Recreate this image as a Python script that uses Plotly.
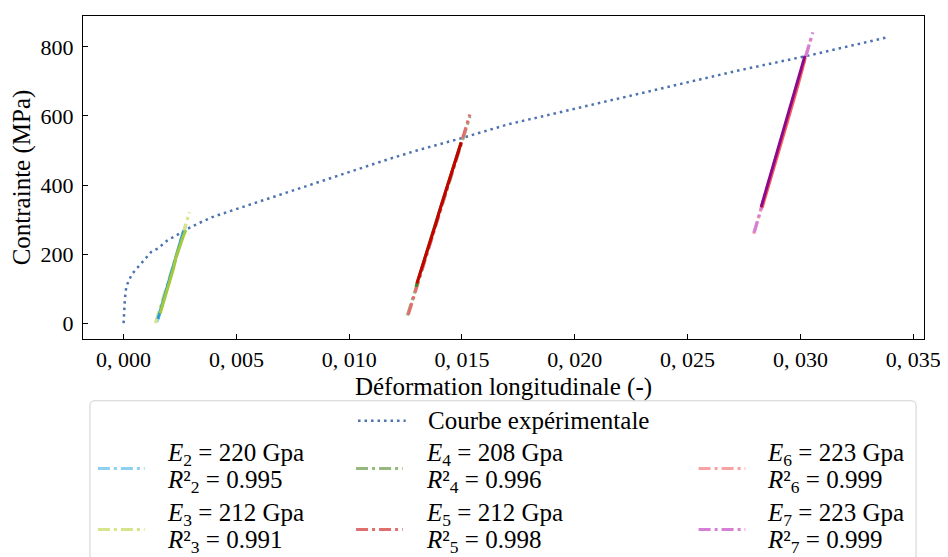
import plotly.graph_objects as go

# ---------------- data ----------------
strain_exp = [0.0, 0.000013, 0.000057, 0.000119, 0.000233, 0.000383, 0.00063, 0.00082,
              0.00122, 0.00151, 0.00195, 0.00247, 0.00283, 0.00335, 0.00393, 0.00452,
              0.0060, 0.0080, 0.0100, 0.0117, 0.0130, 0.0150, 0.0170, 0.0200, 0.0230,
              0.0250, 0.0272, 0.0303, 0.0338]
stress_exp = [0, 35, 71, 105, 124, 143, 161, 177,
              206, 216, 240, 259, 273, 290, 307, 320,
              352, 395, 437, 474, 500, 536, 575, 621, 667,
              697, 731, 774, 827]

fit_names = ["2", "3", "4", "5", "6", "7"]
fit_E = [220, 212, 208, 212, 223, 223]
fit_R2 = ["0.995", "0.991", "0.996", "0.998", "0.999", "0.999"]

fit_x = [[0.00148, 0.00275], [0.00141, 0.00292], [0.01258, 0.01535],
         [0.01262, 0.01535], [0.02793, 0.03050], [0.02795, 0.03055]]
fit_y = [[3, 282], [0, 321], [22, 598], [25, 604], [259, 832], [262, 842]]

cyc_x = [
    [0.00152, 0.00175, 0.00200, 0.00222, 0.00245, 0.00266],
    [0.00162, 0.00180, 0.00198, 0.00210, 0.00222, 0.00232, 0.00245, 0.00254, 0.00266, 0.00276],
    [0.01296, 0.0133, 0.0137, 0.0140, 0.0144, 0.0147, 0.01495],
    [0.01300, 0.0134, 0.0138, 0.0141, 0.0145, 0.0148, 0.01497],
    [0.02830, 0.0287, 0.0291, 0.0295, 0.0299, 0.03022],
    [0.02826, 0.0286, 0.0290, 0.0294, 0.0298, 0.03020],
]
cyc_y = [
    [12, 65, 120, 168, 222, 268],
    [28, 68, 108, 140, 160, 190, 214, 236, 254, 269],
    [105, 180, 262, 325, 405, 470, 522],
    [115, 195, 280, 345, 425, 490, 524],
    [333, 420, 510, 600, 690, 770],
    [336, 412, 502, 592, 684, 774],
]

xtick_vals = [0.0, 0.005, 0.010, 0.015, 0.020, 0.025, 0.030, 0.035]
xtick_text = ["0, 000", "0, 005", "0, 010", "0, 015", "0, 020", "0, 025", "0, 030", "0, 035"]
ytick_vals = [0, 200, 400, 600, 800]

# ---------------- styles ----------------
FONT = "Liberation Serif"
exp_color = "#4c72b0"
fit_colors = ["#8fd0f0", "#d6e48c", "#97b87c", "#e07070", "#f7a3a3", "#d480d4"]
cyc_colors = ["#2a9fd8", "#a5c83c", "#3a8a1c", "#c80000", "#ff5a5a", "#8b0a8b"]
DASHDOT = "12px,4px,3px,4px"
DOT = "2.5px,4px"

fig = go.Figure()
fig.add_trace(go.Scatter(x=strain_exp, y=stress_exp, mode="lines",
                         line=dict(color=exp_color, width=2.5, dash=DOT),
                         name="Courbe expérimentale", showlegend=False))
for i in range(6):
    fig.add_trace(go.Scatter(x=fit_x[i], y=fit_y[i], mode="lines",
                             line=dict(color=fit_colors[i], width=3.2, dash=DASHDOT),
                             showlegend=False))
for i in range(6):
    fig.add_trace(go.Scatter(x=cyc_x[i], y=cyc_y[i], mode="lines",
                             line=dict(color=cyc_colors[i], width=3),
                             showlegend=False))

# ---------------- layout ----------------
# page coordinates of the plot frame (browser body has an 8px margin)
OFF = 8
L, R, T, B = 83, 930, 15, 339
PAGE_W, PAGE_H = 948, 557
W, H = PAGE_W - OFF, PAGE_H - OFF


def px(x):
    return (x - L) / (R - L)


def py(y):
    return (B - y) / (B - T)


fig.update_layout(
    width=W, height=H,
    margin=dict(l=L - OFF, r=PAGE_W - R, t=T - OFF, b=PAGE_H - B),
    paper_bgcolor="white", plot_bgcolor="white",
    font=dict(family=FONT, size=22, color="black"),
    showlegend=False,
    xaxis=dict(range=[-0.00180, 0.03548], tickvals=xtick_vals, ticktext=xtick_text,
               ticks="inside", ticklen=5, tickwidth=1.2, tickcolor="black",
               showline=True, linecolor="black", linewidth=1.3, mirror=True,
               showgrid=False, zeroline=False, tickfont=dict(size=22),
               title=dict(text="Déformation longitudinale (-)", standoff=6,
                          font=dict(size=25))),
    yaxis=dict(range=[-46, 889.5], tickvals=ytick_vals,
               ticks="inside", ticklen=5, tickwidth=1.2, tickcolor="black",
               showline=True, linecolor="black", linewidth=1.3, mirror=True,
               showgrid=False, zeroline=False, ticklabelstandoff=4, tickfont=dict(size=22),
               title=dict(text="Contrainte (MPa)", standoff=6, font=dict(size=25))),
)

# ---------------- manual legend ----------------
shapes = []
x0, x1, y0, y1, r = 90, 922, 401, 570, 5
path = (f"M {px(x0 + r)},{py(y0)} L {px(x1 - r)},{py(y0)} "
        f"Q {px(x1)},{py(y0)} {px(x1)},{py(y0 + r)} L {px(x1)},{py(y1)} "
        f"L {px(x0)},{py(y1)} L {px(x0)},{py(y0 + r)} "
        f"Q {px(x0)},{py(y0)} {px(x0 + r)},{py(y0)} Z")
shapes.append(dict(type="path", xref="paper", yref="paper", path=path,
                   line=dict(color="#d0d0d0", width=1), fillcolor="rgba(255,255,255,0.8)",
                   layer="above"))

LEG = 25
annotations = []
shapes.append(dict(type="line", xref="paper", yref="paper",
                   x0=px(360), x1=px(408), y0=py(421), y1=py(421),
                   line=dict(color=exp_color, width=2.5, dash=DOT)))
annotations.append(dict(xref="paper", yref="paper", x=px(428), y=py(421),
                        xanchor="left", yanchor="middle", showarrow=False,
                        text="Courbe expérimentale", font=dict(size=LEG)))

col_sample = [(98, 145), (358, 405), (703, 750)]
col_text = [166, 426, 770]
row_sample = [469, 530]
row_e = [455, 515]
row_r = [482, 542]
for i in range(6):
    c, rw = i // 2, i % 2
    sx0, sx1 = col_sample[c]
    shapes.append(dict(type="line", xref="paper", yref="paper",
                       x0=px(sx0), x1=px(sx1), y0=py(row_sample[rw]), y1=py(row_sample[rw]),
                       line=dict(color=fit_colors[i], width=3, dash=DASHDOT)))
    annotations.append(dict(xref="paper", yref="paper", x=px(col_text[c]), y=py(row_e[rw]),
                            xanchor="left", yanchor="middle", showarrow=False,
                            font=dict(size=LEG),
                            text=f"<i>E</i><sub>{fit_names[i]}</sub> = {fit_E[i]} Gpa"))
    annotations.append(dict(xref="paper", yref="paper", x=px(col_text[c]), y=py(row_r[rw]),
                            xanchor="left", yanchor="middle", showarrow=False,
                            font=dict(size=LEG),
                            text=f"<i>R</i>²<sub>{fit_names[i]}</sub> = {fit_R2[i]}"))

fig.update_layout(shapes=shapes, annotations=annotations)
fig.write_html("out.html")
